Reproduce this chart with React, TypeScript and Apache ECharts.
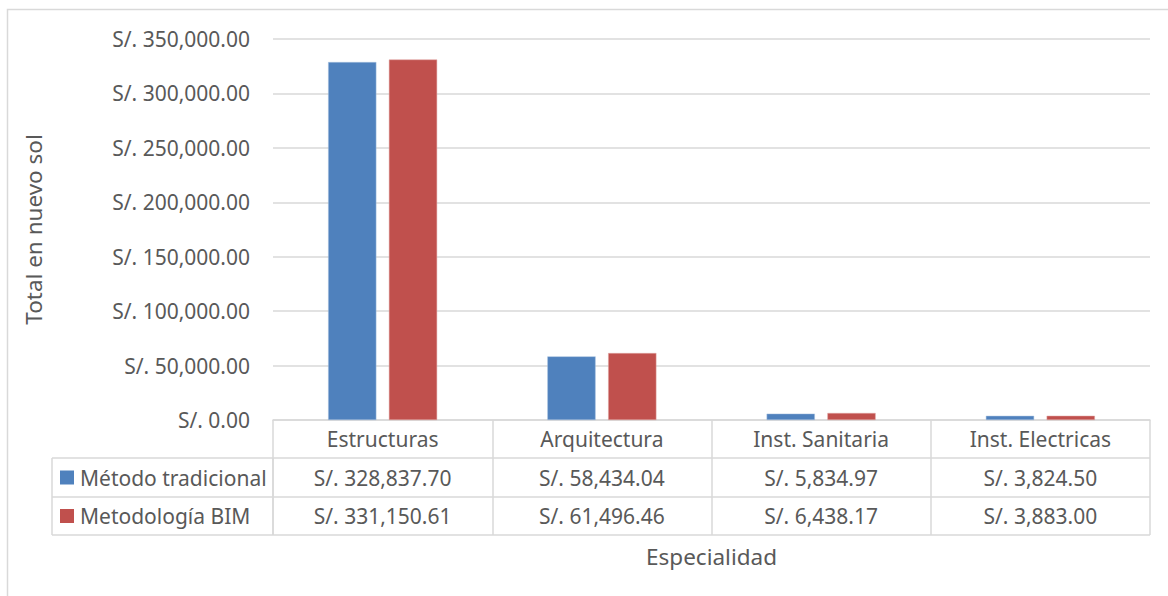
import React, { useEffect, useRef } from "react";
import * as echarts from "echarts";

const categories = ["Estructuras", "Arquitectura", "Inst. Sanitaria", "Inst. Electricas"];
const seriesNames = ["Método tradicional", "Metodología BIM"];
const tradicional = [328837.7, 58434.04, 5834.97, 3824.5];
const bim = [331150.61, 61496.46, 6438.17, 3883.0];
const yTicks = { min: 0, max: 350000, interval: 50000 };
const yTitle = "Total en nuevo sol";
const xTitle = "Especialidad";

const COLORS = ["#4f81bd", "#c0504d"];
const TEXT = "#595959";
const LINE = "#d9d9d9";
const FONT = "'Noto Sans', 'Open Sans', sans-serif";
const FS = 21;
const TFS = 22.5;

const W = 1168;
const H = 596;
const GL = 273;
const GR = 1150;
const GT = 39;
const GB = 420;
const ROW = [420, 458, 497, 535];
const LEG_L = 52;

const money = (v: number) =>
  "S/. " + v.toLocaleString("en-US", { minimumFractionDigits: 2, maximumFractionDigits: 2 });

export default function App() {
  const ref = useRef<HTMLDivElement>(null);
  useEffect(() => {
    if (!ref.current) return;
    const chart = echarts.init(ref.current, null, { renderer: "svg" });
    const colW = (GR - GL) / categories.length;
    const rows = [tradicional, bim];
    const graphics: any[] = [];
    graphics.push({
      type: "rect",
      shape: { x: 7.5, y: 9.5, width: 1300, height: 800 },
      style: { fill: "none", stroke: LINE, lineWidth: 1.5 },
      silent: true,
    });
    for (let r = 1; r < ROW.length; r++) {
      graphics.push({
        type: "line",
        shape: { x1: LEG_L, y1: ROW[r], x2: GR, y2: ROW[r] },
        style: { stroke: LINE, lineWidth: 1.5 },
        silent: true,
      });
    }
    [LEG_L, GL].forEach((x) =>
      graphics.push({
        type: "line",
        shape: { x1: x, y1: ROW[1], x2: x, y2: ROW[3] },
        style: { stroke: LINE, lineWidth: 1.5 },
        silent: true,
      })
    );
    rows.forEach((vals, r) => {
      const cy = (ROW[r + 1] + ROW[r + 2]) / 2;
      graphics.push({
        type: "rect",
        shape: { x: 60, y: cy - 7, width: 14, height: 14 },
        style: { fill: COLORS[r] },
        silent: true,
      });
      graphics.push({
        type: "text",
        x: 80,
        y: cy,
        style: {
          text: seriesNames[r],
          fill: TEXT,
          font: `${FS}px ${FONT}`,
          textAlign: "left",
          textVerticalAlign: "middle",
        },
        silent: true,
      });
      vals.forEach((v, i) => {
        graphics.push({
          type: "text",
          x: GL + (i + 0.5) * colW,
          y: cy,
          style: {
            text: money(v),
            fill: TEXT,
            font: `${FS}px ${FONT}`,
            textAlign: "center",
            textVerticalAlign: "middle",
          },
          silent: true,
        });
      });
    });

    chart.setOption({
      animation: false,
      textStyle: { fontFamily: FONT },
      grid: { left: GL, right: W - GR, top: GT, bottom: H - GB, containLabel: false },
      xAxis: {
        type: "category",
        data: categories,
        name: xTitle,
        nameLocation: "middle",
        nameGap: 125,
        nameTextStyle: { color: TEXT, fontSize: TFS, fontFamily: FONT },
        axisLine: { show: true, lineStyle: { color: LINE, width: 1.5 } },
        axisTick: { show: true, length: ROW[3] - ROW[0], lineStyle: { color: LINE, width: 1.5 } },
        axisLabel: {
          color: TEXT,
          fontSize: FS,
          fontFamily: FONT,
          margin: (ROW[1] - ROW[0]) / 2,
          verticalAlign: "middle",
        },
      },
      yAxis: {
        type: "value",
        min: yTicks.min,
        max: yTicks.max,
        interval: yTicks.interval,
        name: yTitle,
        nameLocation: "middle",
        nameRotate: 90,
        nameGap: 228,
        nameTextStyle: { color: TEXT, fontSize: TFS, fontFamily: FONT },
        axisLine: { show: false },
        axisTick: { show: false },
        splitLine: { lineStyle: { color: LINE, width: 1.5 } },
        axisLabel: {
          color: TEXT,
          fontSize: FS,
          fontFamily: FONT,
          margin: 23,
          formatter: (v: number) => money(v),
        },
      },
      series: [
        {
          name: seriesNames[0],
          type: "bar",
          data: tradicional,
          barWidth: "22%",
          barGap: "26%",
          itemStyle: { color: COLORS[0], borderColor: "#a7c0de", borderWidth: 0.5 },
        },
        {
          name: seriesNames[1],
          type: "bar",
          data: bim,
          barWidth: "22%",
          barGap: "26%",
          itemStyle: { color: COLORS[1], borderColor: "#e0a6a5", borderWidth: 0.5 },
        },
      ],
      graphic: graphics,
    });
    return () => chart.dispose();
  }, []);
  return (
    <div
      ref={ref}
      style={{ position: "fixed", left: 0, top: 0, width: W, height: H, background: "#fff" }}
    />
  );
}
